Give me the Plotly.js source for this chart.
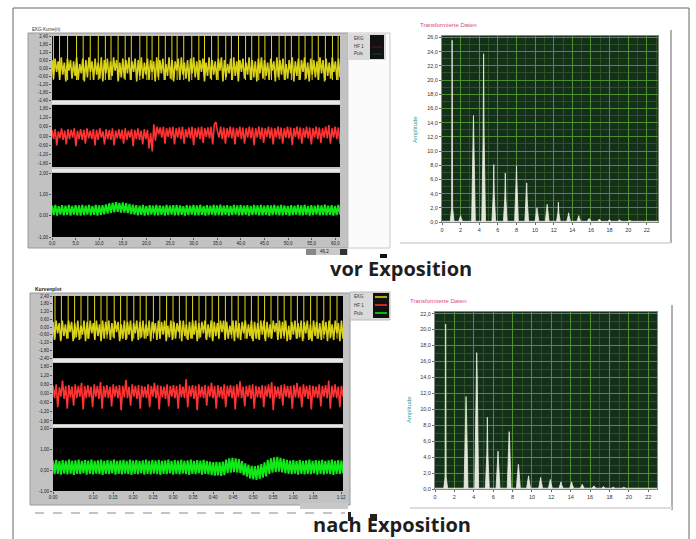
<!DOCTYPE html>
<html><head><meta charset="utf-8">
<script src="https://cdn.plot.ly/plotly-3.0.1.min.js"></script>
<style>html,body{margin:0;padding:0;background:#fff}#chart{width:696px;height:539px}</style>
</head><body><div id="chart"></div>
<script>
// ---------- DATA ----------
// vor Exposition: EKG baseline band (yellow), R-peak times, HF (red), Puls (green)
const ekgVorBand = [0.6,-0.8,0.7,-0.3,0.5,-0.9,0.8,-0.5,0.4,-1.0,0.7,-0.2,0.6,-0.8,0.5,-0.6,0.8,-0.9,0.3,-0.4,0.7,-1.0,0.6,-0.7,0.8,-0.3,0.5,-0.9,0.7,-0.5,0.4,-0.8,0.8,-1.0,0.6,-0.4,0.7,-0.9,0.5,-0.6,0.8,-0.2,0.6,-1.0,0.4,-0.7,0.7,-0.8,0.6,-0.4,0.8,-0.9,0.5,-0.3,0.7,-1.0,0.6,-0.6,0.8,-0.8,0.4,-0.5,0.7,-0.9,0.6,-0.3,0.5,-1.0,0.8,-0.7,0.6,-0.4,0.7,-0.9,0.3,-0.6,0.8,-0.8,0.6,-1.0,0.5,-0.2,0.7,-0.9,0.8,-0.5,0.4,-0.8,0.6,-1.0,0.7,-0.4,0.8,-0.7,0.5,-0.9,0.6,-0.3,0.7,-1.0,0.4,-0.6,0.8,-0.8,0.6,-0.5,0.5,-0.9,0.7,-0.2,0.8,-1.0,0.6,-0.7,0.3,-0.4,0.7,-0.9,0.8,-0.6,0.5,-1.0,0.6,-0.3,0.7,-0.8,0.4,-0.5,0.8,-0.9,0.6,-0.7,0.5,-1.0,0.7,-0.4,0.8,-0.8,0.6,-0.6,0.4,-0.9,0.7,-0.2,0.5,-1.0,0.8,-0.7,0.6,-0.5,0.7,-0.9,0.3,-0.8,0.6,-0.4,0.8,-1.0,0.5,-0.6,0.7,-0.9,0.6,-0.3,0.8,-0.8,0.4,-1.0,0.7,-0.5,0.6,-0.7,0.5,-0.9,0.8,-0.4,0.6,-1.0,0.7,-0.6,0.4,-0.8,0.8,-0.3,0.5,-0.9,0.7,-0.7];
const ekgVorBeats = [0.3,1.6,3.3,5.2,6.6,8.1,9.8,11.3,12.5,14.0,15.5,16.8,18.6,20.1,21.2,22.6,24.0,25.4,26.5,27.9,29.6,31.1,32.3,33.8,35.2,36.8,38.0,39.5,41.0,42.3,43.8,45.1,46.5,48.1,49.4,50.7,52.3,53.6,55.1,56.4,57.9,59.4,60.6];
const hfVor = [0.4,-0.2,0.45,-0.6,0.3,-0.15,0.5,-0.25,0.35,-0.55,0.45,-0.2,0.4,-0.1,0.5,-0.65,0.35,-0.2,0.45,-0.25,0.4,-0.5,0.5,-0.15,0.35,-0.2,0.45,-0.6,0.4,-0.25,0.5,-0.1,0.3,-0.55,0.45,-0.2,0.4,-0.25,0.5,-0.6,0.35,-0.15,0.45,-0.2,0.4,-0.5,0.5,-0.25,0.35,-0.1,0.45,-0.65,0.4,-0.2,0.5,-0.25,0.35,-0.55,0.45,-0.2,0.4,-0.8,0.2,-1.0,0.75,-0.3,0.6,0.1,0.55,-0.1,0.6,-0.5,0.5,-0.05,0.55,-0.15,0.6,-0.55,0.5,-0.1,0.55,-0.2,0.6,-0.5,0.45,-0.1,0.55,-0.15,0.6,-0.6,0.5,-0.1,0.55,-0.2,0.6,-0.45,0.5,-0.05,0.55,-0.15,0.6,-0.55,0.75,0.9,0.3,-0.1,0.6,-0.2,0.55,-0.5,0.5,-0.1,0.6,-0.15,0.55,-0.55,0.5,-0.05,0.6,-0.2,0.55,-0.5,0.5,-0.1,0.6,-0.15,0.55,-0.6,0.5,-0.1,0.6,-0.2,0.55,-0.45,0.5,-0.05,0.6,-0.15,0.55,-0.55,0.5,-0.1,0.6,-0.2,0.55,-0.5,0.5,-0.1,0.6,-0.15,0.55,-0.6,0.5,-0.05,0.6,-0.2,0.55,-0.5,0.5,-0.1,0.6,-0.15,0.55,-0.55,0.5,-0.1,0.6,-0.2,0.55,-0.45,0.5,-0.1,0.6,-0.15,0.7,-0.5,0.5,-0.1,0.6,-0.2,0.55,-0.5];
const pulsVor = [0.48,0.03,0.5,0.0,0.45,0.05,0.49,0.02,0.47,0.04,0.5,0.0,0.46,0.05,0.49,0.02,0.48,0.0,0.51,0.03,0.47,0.05,0.5,0.01,0.46,0.04,0.5,0.0,0.48,0.03,0.49,0.06,0.53,0.1,0.58,0.13,0.61,0.16,0.63,0.18,0.6,0.15,0.62,0.14,0.58,0.12,0.55,0.08,0.52,0.05,0.49,0.02,0.47,0.04,0.5,0.0,0.46,0.03,0.49,0.05,0.47,0.01,0.51,0.02,0.48,0.04,0.46,0.0,0.5,0.03,0.47,0.05,0.49,0.01,0.51,0.02,0.48,0.04,0.45,0.0,0.49,0.03,0.47,0.05,0.5,0.01,0.48,0.02,0.51,0.04,0.46,0.0,0.49,0.03,0.47,0.05,0.5,0.01,0.48,0.03,0.52,0.02,0.47,0.04,0.49,0.0,0.46,0.03,0.5,0.05,0.48,0.01,0.51,0.02,0.47,0.04,0.49,0.0,0.46,0.03,0.5,0.05,0.48,0.01,0.51,0.02,0.47,0.04,0.49,0.0,0.48,0.03,0.5,0.05,0.47,0.01,0.51,0.02,0.48,0.04,0.46,0.0,0.49,0.03,0.47,0.05,0.5,0.01,0.48,0.02,0.51,0.04,0.46,0.0,0.49,0.03,0.47,0.05,0.5,0.01,0.48,0.03,0.52,0.02,0.47,0.04,0.49,0.0,0.46,0.03,0.5,0.05];
// nach Exposition
const ekgNachBand = [0.4,-1.0,0.5,-0.5,0.3,-1.1,0.5,-0.7,0.2,-0.9,0.5,-0.4,0.4,-1.1,0.3,-0.8,0.5,-1.0,0.1,-0.6,0.5,-1.1,0.4,-0.9,0.5,-0.5,0.3,-1.0,0.5,-0.7,0.2,-1.1,0.5,-0.9,0.4,-0.6,0.5,-1.0,0.3,-0.8,0.5,-0.4,0.4,-1.1,0.2,-0.9,0.5,-1.0,0.4,-0.6,0.5,-1.1,0.3,-0.5,0.5,-1.0,0.4,-0.8,0.5,-0.9,0.2,-0.7,0.5,-1.1,0.4,-0.5,0.3,-1.0,0.5,-0.9,0.4,-0.6,0.5,-1.1,0.1,-0.8,0.5,-1.0,0.4,-0.9,0.3,-0.4,0.5,-1.1,0.5,-0.7,0.2,-1.0,0.4,-0.9,0.5,-0.6,0.5,-1.1,0.3,-0.8,0.4,-0.5,0.5,-1.0,0.2,-0.8,0.5,-1.1,0.4,-0.7,0.3,-0.9,0.5,-0.4,0.5,-1.0,0.4,-0.9,0.1,-0.6,0.5,-1.1,0.5,-0.8,0.3,-1.0,0.4,-0.5,0.5,-0.9,0.2,-0.7,0.5,-1.1,0.4,-0.9,0.3,-1.0,0.5,-0.6,0.5,-1.1,0.4,-0.8,0.2,-0.9,0.5,-0.4,0.3,-1.0,0.5,-0.9,0.4,-0.7,0.5,-1.1,0.1,-1.0,0.4,-0.6,0.5,-0.9,0.3,-0.8,0.5,-1.1,0.4,-0.5,0.5,-1.0,0.2,-1.1,0.5,-0.7,0.4,-0.9,0.3,-1.0,0.5,-0.6,0.4,-1.1,0.5,-0.8,0.2,-1.0,0.5,-0.5,0.3,-1.1,0.5,-0.9];
const ekgNachBeats = [0.5,2.1,3.8,5.4,7.0,8.7,10.4,12.0,13.5,15.3,16.9,18.5,20.2,21.8,23.3,25.1,26.7,28.4,30.0,31.6,33.3,34.9,36.5,38.2,39.8,41.4,43.1,44.7,46.3,48.0,49.6,51.3,52.9,54.5,56.2,57.8,59.5,61.1,62.7,64.4,66.0,67.7,69.3,71.0];
const hfNach = [0.5,-0.3,0.6,-0.9,0.4,-0.2,0.85,-0.35,0.5,-1.0,0.55,-0.25,0.45,-0.8,0.6,-0.3,0.5,-0.2,0.7,-1.05,0.5,-0.3,0.55,-0.25,0.45,-0.9,0.6,-0.2,0.5,-0.35,0.75,-1.0,0.5,-0.25,0.55,-0.3,0.45,-0.85,0.6,-0.2,0.5,-0.3,0.55,-1.1,0.5,-0.25,0.9,-0.3,0.45,-0.8,0.6,-0.2,0.5,-0.35,0.55,-1.0,0.5,-0.25,0.45,-0.3,0.6,-0.9,0.5,-0.2,0.7,-0.3,0.55,-1.05,0.5,-0.25,0.45,-0.35,0.6,-0.85,0.5,-0.2,0.55,-0.3,0.5,-1.0,0.6,-0.25,0.45,-0.3,0.95,-0.9,0.5,-0.2,0.55,-0.35,0.5,-1.1,0.6,-0.25,0.45,-0.3,0.55,-0.8,0.5,-0.2,0.7,-0.3,0.5,-1.0,0.55,-0.25,0.45,-0.35,0.6,-0.9,0.5,-0.2,0.55,-0.3,0.5,-1.05,0.6,-0.25,0.8,-0.3,0.45,-0.85,0.5,-0.2,0.55,-0.35,0.6,-1.0,0.5,-0.25,0.45,-0.3,0.55,-0.9,0.5,-0.2,0.6,-0.3,0.75,-1.1,0.5,-0.25,0.45,-0.35,0.55,-0.8,0.6,-0.2,0.5,-0.3,0.5,-1.0,0.55,-0.25,0.7,-0.3,0.45,-0.9,0.6,-0.2,0.5,-0.35,0.55,-1.05,0.5,-0.25,0.45,-0.3,0.6,-0.85,0.5,-0.2,0.55,-0.3,0.85,-1.0,0.5,-0.25,0.6,-0.3,0.45,-0.9,0.5,-0.2];
const pulsNach = [0.45,-0.2,0.48,-0.18,0.42,-0.22,0.47,-0.17,0.44,-0.21,0.5,-0.19,0.43,-0.23,0.46,-0.18,0.49,-0.2,0.44,-0.16,0.47,-0.22,0.45,-0.19,0.5,-0.21,0.43,-0.17,0.46,-0.2,0.48,-0.23,0.44,-0.18,0.47,-0.2,0.45,-0.16,0.49,-0.22,0.43,-0.19,0.46,-0.21,0.48,-0.17,0.44,-0.2,0.5,-0.23,0.45,-0.18,0.47,-0.2,0.43,-0.16,0.46,-0.22,0.49,-0.19,0.44,-0.21,0.47,-0.17,0.45,-0.2,0.48,-0.23,0.43,-0.18,0.46,-0.2,0.5,-0.16,0.44,-0.22,0.47,-0.19,0.45,-0.21,0.48,-0.17,0.43,-0.2,0.46,-0.23,0.49,-0.18,0.44,-0.2,0.47,-0.16,0.45,-0.22,0.48,-0.19,0.43,-0.21,0.4,-0.25,0.38,-0.27,0.39,-0.26,0.37,-0.28,0.4,-0.25,0.5,-0.15,0.55,-0.12,0.58,-0.1,0.56,-0.12,0.52,-0.15,0.42,-0.25,0.32,-0.32,0.25,-0.4,0.2,-0.45,0.18,-0.47,0.22,-0.42,0.28,-0.36,0.36,-0.3,0.48,-0.18,0.55,-0.12,0.6,-0.1,0.62,-0.08,0.58,-0.11,0.53,-0.15,0.48,-0.19,0.45,-0.2,0.47,-0.17,0.44,-0.22,0.48,-0.19,0.43,-0.21,0.46,-0.18,0.49,-0.2,0.44,-0.16,0.47,-0.22,0.45,-0.19,0.48,-0.21,0.43,-0.17,0.46,-0.2,0.5,-0.23,0.44,-0.18,0.47,-0.2,0.45,-0.16];

// Spectra ("Transformierte Daten"): harmonic frequency, peak amplitude, body amplitude
const fftVorFreq = [1.09,2.0,3.38,4.47,5.56,6.8,8.0,9.1,10.2,11.3,12.5,13.6,14.7,15.8,16.9,18.0,19.1,20.2,21.3];
const fftVorPeak = [25.6,0.9,15.0,23.7,8.1,6.9,7.9,5.5,2.0,2.5,2.8,1.3,0.9,0.5,0.4,0.3,0.3,0.25,0.2];
const fftVorBody = [2.0,0.6,11.0,12.3,4.0,3.5,5.5,3.2,1.5,1.8,1.3,0.9,0.6,0.4,0.3,0.2,0.2,0.15,0.1];
const fftNachFreq = [1.1,3.2,4.3,5.4,6.5,7.65,8.6,9.65,10.9,11.9,13.0,14.1,15.2,16.4,17.4,18.4,19.5];
const fftNachPeak = [20.7,11.6,17.1,9.0,4.75,7.2,3.1,1.65,1.45,1.2,0.9,0.9,0.6,0.4,0.3,0.25,0.25];
const fftNachBody = [1.5,9.5,14.5,4.5,3.5,5.8,2.5,1.2,1.0,0.8,0.6,0.6,0.4,0.3,0.2,0.15,0.15];

// Tick labels
const ekgTicks = ["2,40","1,80","1,20","0,60","0,00","-0,60","-1,20","-1,80","-2,40"];
const hfTicks = ["1,80","1,20","0,60","0,00","-0,60","-1,20","-1,80"];
const pulsTicks = ["2,00","1,00","0,00","-1,00"];
const vorTimeTicks = ["0,0","5,0","10,0","15,0","20,0","25,0","30,0","35,0","40,0","45,0","50,0","55,0","60,0"];
const nachTimeTicks = ["0:00","0:10","0:15","0:20","0:25","0:30","0:35","0:40","0:45","0:50","0:55","1:00","1:05","1:12"];
const fftXTicks = ["0","2","4","6","8","10","12","14","16","18","20","22"];
const fftVorYTicks = ["0,0","2,0","4,0","6,0","8,0","10,0","12,0","14,0","16,0","18,0","20,0","22,0","24,0","26,0"];
const fftNachYTicks = ["0,0","2,0","4,0","6,0","8,0","10,0","12,0","14,0","16,0","18,0","20,0","22,0"];
const vorDuration = 61, nachDuration = 72.5;
const beatTop = 2.6, beatFoot = -0.9;

// ---------- helpers ----------
const W=696, H=539;
const fx=p=>p/W, fy=p=>1-p/H;
const num=s=>parseFloat(s.replace(',','.'));
const timeVal=s=>{const p=s.split(':');return parseInt(p[0])*60+parseInt(p[1]);};
const times=(arr,T)=>arr.map((_,i)=>i*T/(arr.length-1));
function beatSegs(beats){
  const x=[],y=[];
  beats.forEach(t=>{x.push(t,t,null);y.push(beatFoot,beatTop,null);});
  return {x,y};
}
function spikes(freq,peak,body){
  const x=[0],y=[0.1];
  freq.forEach((f,i)=>{
    x.push(f-0.2,f-0.05,f,f+0.05,f+0.2);
    y.push(0.1,body[i],peak[i],body[i],0.1);
  });
  x.push(30);y.push(0.1);
  return {x,y};
}

const YEL='#e4dc18', RED='#ff3333', GRN='#10e818';
const lineTrace=(x,y,xa,ya,c,w)=>({type:'scatter',mode:'lines',x,y,xaxis:xa,yaxis:ya,line:{color:c,width:w},hoverinfo:'skip',connectgaps:false});
const bv=beatSegs(ekgVorBeats), bn=beatSegs(ekgNachBeats);
const sv=spikes(fftVorFreq,fftVorPeak,fftVorBody);
const sn=spikes(fftNachFreq,fftNachPeak,fftNachBody);
const spikeTrace=(s,xa,ya)=>({type:'scatter',mode:'lines',x:s.x,y:s.y,xaxis:xa,yaxis:ya,fill:'tozeroy',fillcolor:'rgba(235,240,228,0.95)',line:{color:'#e8eee0',width:0.8},hoverinfo:'skip'});

const data=[
  lineTrace(times(ekgVorBand,vorDuration),ekgVorBand,'x','y','#d8d018',1.6),
  lineTrace(bv.x,bv.y,'x','y',YEL,1),
  lineTrace(times(hfVor,vorDuration),hfVor,'x','y2',RED,1.6),
  lineTrace(times(pulsVor,vorDuration),pulsVor,'x','y3',GRN,2),
  spikeTrace(sv,'x2','y4'),
  lineTrace(times(ekgNachBand,nachDuration),ekgNachBand,'x3','y5','#d8d018',1.6),
  lineTrace(bn.x,bn.y,'x3','y5',YEL,1),
  lineTrace(times(hfNach,nachDuration),hfNach,'x3','y6',RED,1.6),
  lineTrace(times(pulsNach,nachDuration),pulsNach,'x3','y7',GRN,2),
  spikeTrace(sn,'x4','y8')
];

const smallFont={family:'Liberation Sans, Arial, sans-serif',size:4.5,color:'#222'};
const fftFont={family:'Liberation Sans, Arial, sans-serif',size:5.5,color:'#333'};
function lAxisY(dom,ticks,range,anchor){
  return {domain:[fy(dom[1]),fy(dom[0])],anchor,range,tickmode:'array',tickvals:ticks.map(num),ticktext:ticks,
    tickfont:smallFont,ticks:'outside',ticklen:2,tickcolor:'#555',showgrid:false,zeroline:false,showline:false,fixedrange:true};
}
function fAxisY(dom,ticks,range,anchor){
  return {domain:[fy(dom[1]),fy(dom[0])],anchor,range,tickmode:'array',tickvals:ticks.map(num),ticktext:ticks,
    tickfont:fftFont,ticks:'outside',ticklen:2,tickcolor:'#666',showgrid:true,gridcolor:'#4f8f30',gridwidth:1,
    minor:{showgrid:true,gridcolor:'#2a5222',dtick:1},zeroline:false,showline:true,linecolor:'#888',mirror:true};
}
function fAxisX(dom,range,anchor){
  return {domain:[fx(dom[0]),fx(dom[1])],anchor,range,tickmode:'array',tickvals:fftXTicks.map(num),ticktext:fftXTicks,
    tickfont:fftFont,ticks:'outside',ticklen:2,tickcolor:'#666',showgrid:true,gridcolor:'#4f8f30',gridwidth:1,
    minor:{showgrid:true,gridcolor:'#2a5222',dtick:1},zeroline:false,showline:true,linecolor:'#888',mirror:true};
}

const layout={
  width:W,height:H,margin:{l:0,r:0,t:0,b:0},paper_bgcolor:'#ffffff',plot_bgcolor:'rgba(0,0,0,0)',showlegend:false,
  xaxis:{domain:[fx(52),fx(340)],anchor:'y3',range:[0,vorDuration],tickmode:'array',tickvals:vorTimeTicks.map(num),ticktext:vorTimeTicks,
    tickfont:smallFont,ticks:'outside',ticklen:2,tickcolor:'#555',showgrid:false,zeroline:false,showline:false},
  yaxis:lAxisY([36,100],ekgTicks,[-2.4,2.4],'x'),
  yaxis2:lAxisY([105,167],hfTicks,[-2,2],'x'),
  yaxis3:lAxisY([173,237],pulsTicks,[-1,2],'x'),
  xaxis2:fAxisX([442,658],[0,23.2],'y4'),
  yaxis4:fAxisY([36,222],fftVorYTicks,[0,26.2],'x2'),
  xaxis3:{domain:[fx(53),fx(343)],anchor:'y7',range:[0,nachDuration],tickmode:'array',tickvals:nachTimeTicks.map(timeVal),ticktext:nachTimeTicks,
    tickfont:smallFont,ticks:'outside',ticklen:2,tickcolor:'#555',showgrid:false,zeroline:false,showline:false},
  yaxis5:lAxisY([296,358],ekgTicks,[-2.4,2.4],'x3'),
  yaxis6:lAxisY([363,424],hfTicks,[-2,2],'x3'),
  yaxis7:lAxisY([428,491],pulsTicks,[-1,2],'x3'),
  xaxis4:fAxisX([435,657],[0,22.9],'y8'),
  yaxis8:fAxisY([312,489],fftNachYTicks,[0,22.2],'x4'),
  shapes:[],annotations:[]
};
const rect=(x0,y0,x1,y1,fill,line,lw)=>layout.shapes.push({type:'rect',xref:'paper',yref:'paper',layer:'below',
  x0:fx(x0),x1:fx(x1),y0:fy(y1),y1:fy(y0),fillcolor:fill||'rgba(0,0,0,0)',line:{color:line||'rgba(0,0,0,0)',width:lw||(line?1:0)}});
const seg=(x0,y0,x1,y1,c,w,dash)=>layout.shapes.push({type:'line',xref:'paper',yref:'paper',layer:'below',
  x0:fx(x0),x1:fx(x1),y0:fy(y0),y1:fy(y1),line:{color:c,width:w||1,dash:dash||'solid'}});
const txt=(x,y,t,size,color,opts)=>layout.annotations.push(Object.assign({xref:'paper',yref:'paper',x:fx(x),y:fy(y),text:t,showarrow:false,
  xanchor:'left',yanchor:'middle',font:{family:'Liberation Sans, Arial, sans-serif',size,color}},opts||{}));

// outer border
rect(13,8,689,600,null,'#666',1);
// top-left instrument panel
rect(28,33,348,248,'#c2c2c2','#9a9a9a',1);
rect(348,33,390,248,'#fbfbfb','#c8c8c8',1);
rect(349,34,386,60,'#dadada',null);
rect(370,35,384,59,'#111',null);
seg(372,47,382,47,'#551515',1); seg(372,54,382,54,'#154a1a',1);
rect(52,36,340,100,'#000',null);
rect(52,101,340,104,'#e8e8e8',null);
rect(52,105,340,167,'#000',null);
rect(52,169,340,172,'#e8e8e8',null);
rect(52,173,340,237,'#000',null);
rect(306,249,348,255,'#c8c8c8',null);
rect(306,249,316,255,'#888',null);
rect(340,249,347,255,'#333',null);
rect(380,254,387,258,'#111',null);
// bottom-left instrument panel
rect(30,293,350,505,'#c2c2c2','#9a9a9a',1);
rect(350,292,390,320,'#dadada','#bbbbbb',1);
rect(373,293,389,318,'#111',null);
seg(375,297,387,297,YEL,1.5); seg(375,305,387,305,RED,1.5); seg(375,313,387,313,GRN,1.5);
rect(53,296,343,358,'#000',null);
rect(53,359,343,362,'#e8e8e8',null);
rect(53,363,343,424,'#000',null);
rect(53,425,343,427,'#e8e8e8',null);
rect(53,428,343,491,'#000',null);
rect(300,503,348,509,'#c8c8c8',null);
seg(35,513,345,513,'#c4c4c4',2,'dash');
rect(348,512,351,521,'#222',null);
rect(370,514,377,521,'#222',null);
// spectrum panels
rect(442,36,658,222,'#15301a',null);
seg(671,30,671,243,'#b0b0b0',2);
seg(400,243,671,243,'#dddddd',2);
rect(435,312,657,489,'#15301a',null);
seg(672,305,672,510,'#b0b0b0',2);
seg(410,508,672,508,'#dddddd',2);

// texts
txt(30,30,'EKG-Kurve(n)',4.5,'#333');
txt(33,289,'<b>Kurvenplot</b>',5,'#222');
txt(352,38,'EKG',4.5,'#333'); txt(352,46,'HF 1',4.5,'#333'); txt(352,54,'Puls',4.5,'#333');
txt(352,297,'EKG',4.5,'#333'); txt(352,305,'HF 1',4.5,'#333'); txt(352,313,'Puls',4.5,'#333');
txt(318,252,'46,2',4.5,'#222');
txt(418,25,'Transformierte Daten',6,'#d84a80');
txt(408,301,'Transformierte Daten',6,'#d84a80');
txt(415,130,'Amplitude',6,'#2a9aa6',{textangle:-90,xanchor:'center'});
txt(409,410,'Amplitude',6,'#2a9aa6',{textangle:-90,xanchor:'center'});
layout.annotations.push({xref:'paper',yref:'paper',x:fx(401),y:fy(268),text:'<b>vor Exposition</b>',showarrow:false,xanchor:'center',yanchor:'middle',
  font:{family:'Open Sans, DejaVu Sans, sans-serif',size:20,color:'#1e1e1e'}});
layout.annotations.push({xref:'paper',yref:'paper',x:fx(392),y:fy(524),text:'<b>nach Exposition</b>',showarrow:false,xanchor:'center',yanchor:'middle',
  font:{family:'Open Sans, DejaVu Sans, sans-serif',size:20,color:'#1e1e1e'}});

Plotly.newPlot('chart',data,layout,{displayModeBar:false,staticPlot:true});
</script></body></html>
